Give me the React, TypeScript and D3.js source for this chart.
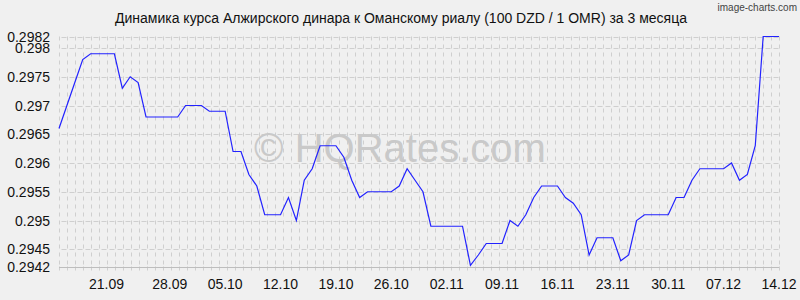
import React from "react";
import * as d3 from "d3";

// Daily rate, 14.09 – 14.12 (92 points)
const values: number[] = [
  0.2966, 0.297, 0.2974, 0.2978, 0.2979, 0.2979, 0.2979, 0.2979, 0.2973, 0.2975,
  0.2974, 0.2968, 0.2968, 0.2968, 0.2968, 0.2968, 0.297, 0.297, 0.297, 0.2969,
  0.2969, 0.2969, 0.2962, 0.2962, 0.2958, 0.2956, 0.2951, 0.2951, 0.2951, 0.2954,
  0.295, 0.2957, 0.2959, 0.2963, 0.2963, 0.2963, 0.2961, 0.2957, 0.2954, 0.2955,
  0.2955, 0.2955, 0.2955, 0.2956, 0.2959, 0.2957, 0.2955, 0.2949, 0.2949, 0.2949,
  0.2949, 0.2949, 0.29422, 0.2944, 0.2946, 0.2946, 0.2946, 0.295, 0.2949, 0.2951,
  0.2954, 0.2956, 0.2956, 0.2956, 0.2954, 0.2953, 0.2951, 0.2944, 0.2947, 0.2947,
  0.2947, 0.2943, 0.2944, 0.295, 0.2951, 0.2951, 0.2951, 0.2951, 0.2954, 0.2954,
  0.2957, 0.2959, 0.2959, 0.2959, 0.2959, 0.296, 0.2957, 0.2958, 0.2963, 0.2982,
  0.2982, 0.2982,
];

const yTicks: number[] = [0.2942, 0.2945, 0.295, 0.2955, 0.296, 0.2965, 0.297, 0.2975, 0.298, 0.2982];
const yTickLabels: string[] = ["0.2942", "0.2945", "0.295", "0.2955", "0.296", "0.2965", "0.297", "0.2975", "0.298", "0.2982"];
const xTickLabels: string[] = ["21.09", "28.09", "05.10", "12.10", "19.10", "26.10", "02.11", "09.11", "16.11", "23.11", "30.11", "07.12", "14.12"];
const xTickIndex: number[] = [6, 14, 21, 28, 35, 42, 49, 56, 63, 70, 77, 84, 91];

const title = "Динамика курса Алжирского динара к Оманскому риалу (100 DZD / 1 OMR) за 3 месяца";

const W = 800;
const H = 300;
const left = 59;
const right = 779;
const top = 36.5;
const bottom = 266.5;
const FONT = "'Liberation Sans', Arial, sans-serif";

export default function App() {
  const x = d3.scaleLinear().domain([0, values.length - 1]).range([left, right]);
  const y = d3.scaleLinear().domain([0.2942, 0.2982]).range([bottom, top]);
  const gridX = d3.scaleLinear().domain([0, 90]).range([left, right]);
  const gridIdx = d3.range(0, 91);

  const line = d3
    .line<number>()
    .x((_, i) => x(i))
    .y((d) => y(d));

  return (
    <svg
      width={W}
      height={H}
      style={{ position: "absolute", left: 0, top: 0, display: "block" }}
    >
      <rect x={0} y={0} width={W} height={H} fill="#f0f0f0" />

      {/* vertical grid */}
      {gridIdx.map((i) => (
        <g key={"vg" + i}>
          <line
            x1={Math.round(gridX(i)) + 0.5}
            x2={Math.round(gridX(i)) + 0.5}
            y1={top}
            y2={bottom}
            stroke="#cfcfcf"
            strokeDasharray="4,4"
          />
          <line
            x1={Math.round(gridX(i)) + 0.5}
            x2={Math.round(gridX(i)) + 0.5}
            y1={bottom}
            y2={bottom + 4}
            stroke="#cfcfcf"
          />
        </g>
      ))}

      {/* horizontal grid */}
      {yTicks.map((t, i) => (
        <line
          key={"hg" + i}
          x1={left}
          x2={right}
          y1={Math.round(y(t)) + 0.5}
          y2={Math.round(y(t)) + 0.5}
          stroke="#cfcfcf"
          strokeDasharray="5,3"
          strokeDashoffset={-2.5}
        />
      ))}

      {/* bottom axis */}
      <line x1={left} x2={right} y1={Math.round(bottom) + 0.5} y2={Math.round(bottom) + 0.5} stroke="#bdbdbd" />

      {/* watermark */}
      <text
        x={400}
        y={162}
        textAnchor="middle"
        fontFamily={FONT}
        fontSize={40}
        fill="#c9c9c9"
      >
        © HQRates.com
      </text>

      {/* data line */}
      <path d={line(values) || ""} fill="none" stroke="#2222ff" strokeWidth={1.2} />

      {/* y labels */}
      {yTicks.map((t, i) => (
        <text
          key={"yl" + i}
          x={50}
          y={y(t) + 5}
          textAnchor="end"
          fontFamily={FONT}
          fontSize={14}
          fill="#111"
        >
          {yTickLabels[i]}
        </text>
      ))}

      {/* x labels */}
      {xTickLabels.map((lab, i) => (
        <text
          key={"xl" + i}
          x={x(xTickIndex[i])}
          y={289}
          textAnchor="middle"
          fontFamily={FONT}
          fontSize={14}
          fill="#111"
        >
          {lab}
        </text>
      ))}

      {/* title */}
      <text x={401} y={23} textAnchor="middle" fontFamily={FONT} fontSize={14} fill="#111">
        {title}
      </text>

      <text x={797} y={11} textAnchor="end" fontFamily={FONT} fontSize={10} fill="#444">
        image-charts.com
      </text>
    </svg>
  );
}
